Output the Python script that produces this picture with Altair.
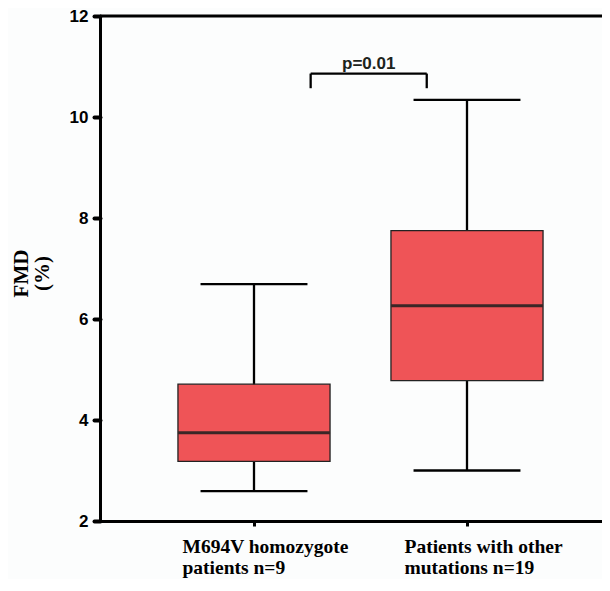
import altair as alt
import pandas as pd

# ---- data ----
groups = ["M694V homozygote patients n=9", "Patients with other mutations n=19"]
label_lines = [["M694V homozygote", "patients n=9"], ["Patients with other", "mutations n=19"]]
positions = [1, 2]
mins = [2.59, 3.0]
q1s = [3.18, 4.78]
medians = [3.75, 6.26]
q3s = [4.71, 7.75]
maxes = [6.69, 10.34]

p_label = ["p=0.01"]
bracket_x = [1.266, 1.811]
bracket_top = [10.86]
bracket_foot = [10.57]
p_y = [10.96]

y_ticks = [2, 4, 6, 8, 10, 12]

BOX_HALF = 0.357
CAP_HALF = 0.251
FILL = "#EF5457"

df = pd.DataFrame({
    "group": groups, "pos": positions, "min": mins, "q1": q1s,
    "median": medians, "q3": q3s, "max": maxes,
})
df["bx0"] = df["pos"] - BOX_HALF
df["bx1"] = df["pos"] + BOX_HALF
df["cx0"] = df["pos"] - CAP_HALF
df["cx1"] = df["pos"] + CAP_HALF

W, H = 502, 505
x_min = 0.277
x_max = x_min + W / 213.0
xscale = alt.Scale(domain=[x_min, x_max], nice=False, zero=False)
yscale = alt.Scale(domain=[2, 12], nice=False, zero=False)

label_expr = " : ".join(
    f"datum.value == {p} ? {l!r}" for p, l in zip(positions, label_lines)
) + " : ''"

x_axis = alt.Axis(
    values=positions, labelExpr=label_expr, title=None, grid=False,
    domainColor="black", domainWidth=3, tickColor="black", tickWidth=3, tickSize=5,
    labelFont="Liberation Serif", labelFontWeight="bold", labelFontSize=19.5,
    labelColor="black", labelAlign="left",
    labelOffset={"condition": {"test": "datum.value == 1", "value": -72}, "value": -63},
    labelPadding=11, labelLineHeight=21,
)
y_axis = alt.Axis(
    values=y_ticks, format="d", grid=False,
    domainColor="black", domainWidth=3, tickColor="black", tickWidth=4, tickSize=6,
    tickCap="round",
    labelFont="Liberation Sans", labelFontWeight="bold", labelFontSize=17,
    labelColor="black", labelPadding=6,
    title=["FMD", "(%)"], titleFont="Liberation Serif", titleFontWeight="bold",
    titleFontSize=21, titleColor="black", titleAngle=-90, titleX=-73, titleY=257,
    titleAlign="center", titleBaseline="alphabetic", titleLineHeight=21,
)

base = alt.Chart(df)

whisker = base.mark_rule(color="black", strokeWidth=2.3).encode(
    x=alt.X("pos:Q", scale=xscale, axis=x_axis),
    y=alt.Y("min:Q", scale=yscale, axis=y_axis),
    y2="max:Q",
)
cap_low = base.mark_rule(color="black", strokeWidth=2.3).encode(
    x="cx0:Q", x2="cx1:Q", y="min:Q")
cap_high = base.mark_rule(color="black", strokeWidth=2.3).encode(
    x="cx0:Q", x2="cx1:Q", y="max:Q")
box = base.mark_rect(fill=FILL, stroke="#222222", strokeWidth=1.3).encode(
    x="bx0:Q", x2="bx1:Q", y="q1:Q", y2="q3:Q")
med = base.mark_rule(color="#3a2626", strokeWidth=3).encode(
    x="bx0:Q", x2="bx1:Q", y="median:Q")

top_line = alt.Chart(pd.DataFrame({"y": [12]})).mark_rule(
    color="black", strokeWidth=3).encode(y="y:Q")

br = pd.DataFrame({"x0": [bracket_x[0]], "x1": [bracket_x[1]],
                   "top": bracket_top, "foot": bracket_foot,
                   "py": p_y, "label": p_label,
                   "xm": [(bracket_x[0] + bracket_x[1]) / 2]})
br_h = alt.Chart(br).mark_rule(color="black", strokeWidth=2.3).encode(
    x="x0:Q", x2="x1:Q", y="top:Q")
br_l = alt.Chart(br).mark_rule(color="black", strokeWidth=2.3).encode(
    x="x0:Q", y="top:Q", y2="foot:Q")
br_r = alt.Chart(br).mark_rule(color="black", strokeWidth=2.3).encode(
    x="x1:Q", y="top:Q", y2="foot:Q")
p_text = alt.Chart(br).mark_text(
    font="Liberation Sans", fontWeight="bold", fontSize=17, color="#1c241c",
    baseline="alphabetic", align="center").encode(
    x="xm:Q", y="py:Q", text="label:N")

chart = alt.layer(
    whisker, cap_low, cap_high, box, med, top_line, br_h, br_l, br_r, p_text
).properties(
    width=W, height=H,
    autosize=alt.AutoSizeParams(type="none"),
    padding={"left": 92, "top": 8, "right": 0, "bottom": 58},
    background="#fcfdfd",
).configure_view(stroke=None)

chart.save("out.html", embed_options={"renderer": "svg", "actions": False})
